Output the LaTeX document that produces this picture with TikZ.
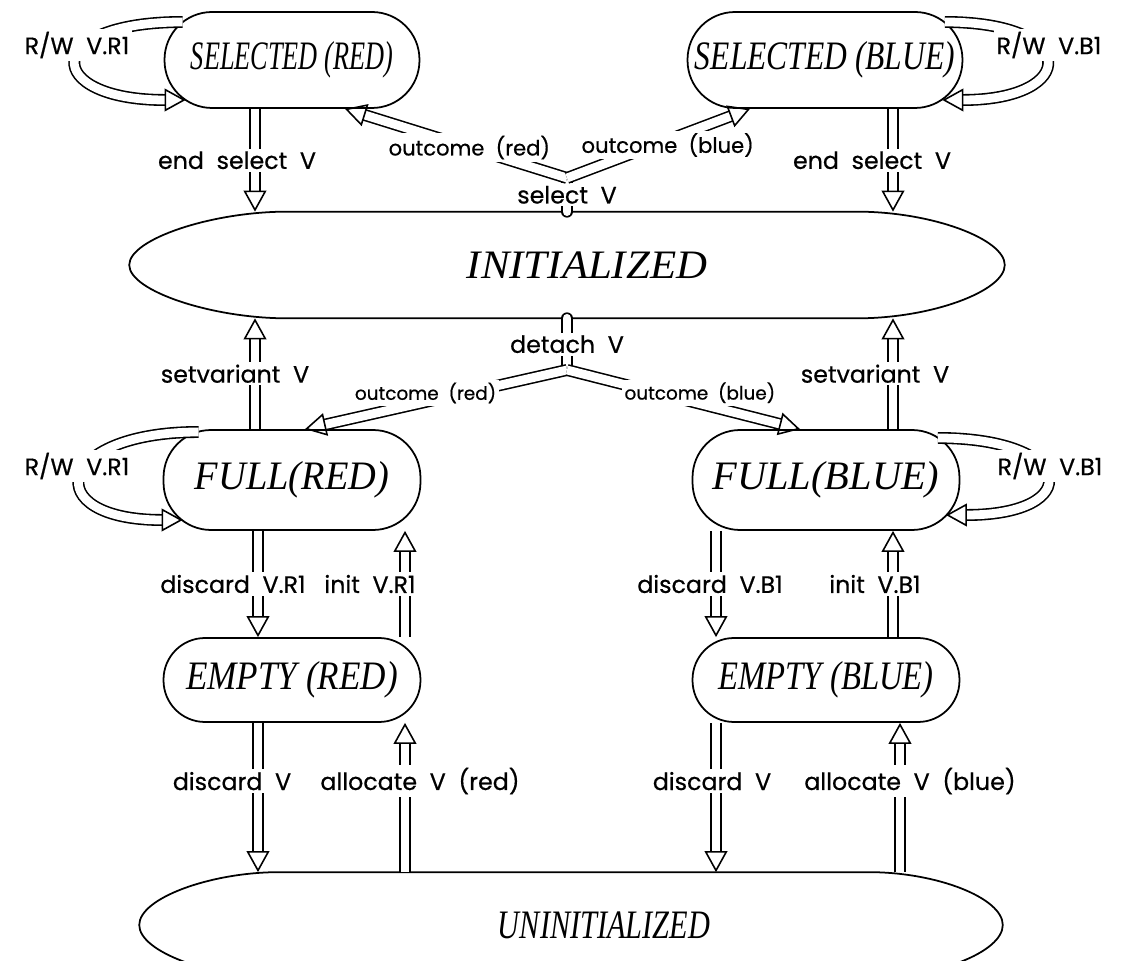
\documentclass[tikz,border=0pt]{standalone}
\usepackage{fontspec}
\setmainfont{Liberation Serif}
\newfontfamily\lblfont[WordSpace=2.0,FakeBold=0.6]{Poppins}
\usetikzlibrary{arrows.meta,positioning}
\newcommand{\sx}[2]{\scalebox{#1}[1]{#2}}

\begin{document}
\begin{tikzpicture}[x=0.02cm,y=0.02cm,
  state/.style={draw,rectangle,rounded corners=0.95cm,line width=1pt,inner sep=0pt,
    minimum height=1.92cm,font=\itshape\fontsize{23}{27}\selectfont},
  oval/.style={inner sep=0pt,font=\itshape\fontsize{23}{27}\selectfont},
  dblline/.style={double,double distance=5pt,line width=0.9pt},
  dbl/.style={dblline,-{Triangle[open,length=12pt,width=13pt]}},
  lbl/.style={fill=white,inner sep=1.5pt,font=\lblfont\fontsize{13.5}{16}\selectfont},
  small/.style={lbl,font=\lblfont\fontsize{12}{14}\selectfont},
  smaller/.style={lbl,font=\lblfont\fontsize{10.5}{12}\selectfont}]

\useasboundingbox (0,0) rectangle (1137,961);

% states
\node[state,minimum width=5.1cm](selR) at (292,901) {\sx{0.65}{SELECTED (RED)}};
\node[state,minimum width=5.5cm](selB) at (825,901) {\sx{0.78}{SELECTED (BLUE)}};
\node[state,minimum width=5.14cm,minimum height=2cm](fullR) at (292,481) {\sx{0.95}{FULL(RED)}};
\node[state,minimum width=5.34cm,minimum height=2cm](fullB) at (826,481) {\sx{1.0}{FULL(BLUE)}};
\node[state,rounded corners=0.83cm,minimum width=5.14cm,minimum height=1.68cm](emptyR) at (292,281) {\sx{0.87}{EMPTY (RED)}};
\node[state,rounded corners=0.83cm,minimum width=5.34cm,minimum height=1.68cm](emptyB) at (826,281) {\sx{0.81}{EMPTY (BLUE)}};

% the two big ovals, text a bit right of the middle
\node[oval,minimum width=17.5cm,minimum height=2.12cm](init) at (587,696) {\sx{1.06}{INITIALIZED}};
\draw[line width=1pt] ([xshift=-6.0cm]init.north) -- ([xshift=5.4cm]init.north)
  .. controls +(75,0) and +(0,26) .. ([xshift=-0.4cm]init.east)
  .. controls +(0,-26) and +(75,0) .. ([xshift=5.4cm]init.south)
  -- ([xshift=-6.0cm]init.south)
  .. controls +(-75,0) and +(0,-26) .. ([xshift=-0.4cm]init.west)
  .. controls +(0,26) and +(-75,0) .. ([xshift=-6.0cm]init.north);

\node[oval,minimum width=17.26cm,minimum height=2.1cm](uninit) at (604,36) {\sx{0.75}{UNINITIALIZED}};
\draw[line width=1pt] ([xshift=-6.5cm]uninit.north) -- ([xshift=5.3cm]uninit.north)
  .. controls +(68,0) and +(0,27) .. ([xshift=-0.66cm]uninit.east)
  .. controls +(0,-27) and +(68,0) .. ([xshift=5.3cm]uninit.south)
  -- ([xshift=-6.5cm]uninit.south)
  .. controls +(-68,0) and +(0,-27) .. ([xshift=-0.66cm]uninit.west)
  .. controls +(0,27) and +(-68,0) .. ([xshift=-6.5cm]uninit.north);

% select / detach branches
\coordinate (sel) at (567,783);
\coordinate (det) at (567,591);
\draw[dblline,line cap=round] (init.north -| sel) -- (sel) node[midway,lbl]{select V};
\draw[dbl] (sel) -- (selR.south -| 345,0) node[pos=0.44,small]{outcome (red)};
\draw[dbl] (sel) -- (selB.south -| 750,0) node[pos=0.55,small,yshift=-0.1cm]{outcome (blue)};
\draw[dblline,line cap=round] (init.south -| det) -- (det) node[midway,lbl]{detach V};
\draw[dbl] (det) -- (fullR.north -| 305,0) node[pos=0.54,smaller,yshift=0.18cm]{outcome (red)};
\draw[dbl] (det) -- (fullB.north -| 800,0) node[pos=0.57,smaller,yshift=0.22cm]{outcome (blue)};

% up and down the columns
\draw[dbl] (selR.south -| 255,0) -- (init.north -| 255,0) node[midway,lbl,xshift=-0.36cm]{end select V};
\draw[dbl] (selB.south -| 893,0) -- (init.north -| 893,0) node[midway,lbl,xshift=-0.42cm]{end select V};
\draw[dbl] (fullR.north -| 255,0) -- (init.south -| 255,0) node[midway,lbl,xshift=-0.4cm]{setvariant V};
\draw[dbl] (fullB.north -| 893,0) -- (init.south -| 893,0) node[midway,lbl,xshift=-0.36cm]{setvariant V};
\draw[dbl] (fullR.south -| 258,0) -- (emptyR.north -| 258,0) node[midway,lbl,xshift=-0.5cm]{discard V.R1};
\draw[dbl] (emptyR.north -| 405,0) -- (fullR.south -| 405,0) node[midway,lbl,xshift=-0.7cm]{init V.R1};
\draw[dbl] (fullB.south -| 716,0) -- (emptyB.north -| 716,0) node[midway,lbl,xshift=-0.12cm]{discard V.B1};
\draw[dbl] (emptyB.north -| 893,0) -- (fullB.south -| 893,0) node[midway,lbl,xshift=-0.36cm]{init V.B1};
\draw[dbl] (emptyR.south -| 258,0) -- (uninit.north -| 258,0) node[pos=0.39,lbl,xshift=-0.52cm]{discard V};
\draw[dbl] (uninit.north -| 405,0) -- (emptyR.south -| 405,0) node[pos=0.61,lbl,xshift=0.3cm]{allocate V (red)};
\draw[dbl] (emptyB.south -| 716,0) -- (uninit.north -| 716,0) node[pos=0.39,lbl,xshift=-0.08cm]{discard V};
\draw[dbl] (uninit.north -| 900,0) -- (emptyB.south -| 900,0) node[pos=0.61,lbl,xshift=0.2cm]{allocate V (blue)};

% read/write loops
\draw[dbl] ([shift={(19,38)}]selR.west) .. controls +(-143,0) and +(-143,0) .. ([shift={(22,-40)}]selR.west);
\draw[dbl] ([shift={(-18.5,38)}]selB.east) .. controls +(136,0) and +(136,0) .. ([shift={(-21,-40)}]selB.east);
\draw[dbl] ([shift={(36,48)}]fullR.west) .. controls +(-145,0) and +(-145,0) .. ([shift={(20,-40)}]fullR.west);
\draw[dbl] ([shift={(-22.5,42)}]fullB.east) .. controls +(139,0) and +(139,0) .. ([shift={(-14.5,-35)}]fullB.east);
\node[lbl](rwsr) at (77,916) {R/W V.R1};
\node[lbl](rwsb) at (1049,916) {R/W V.B1};
\node[lbl](rwfr) at (77,495) {R/W V.R1};
\node[lbl](rwfb) at (1050,495) {R/W V.B1};
\end{tikzpicture}
\end{document}
